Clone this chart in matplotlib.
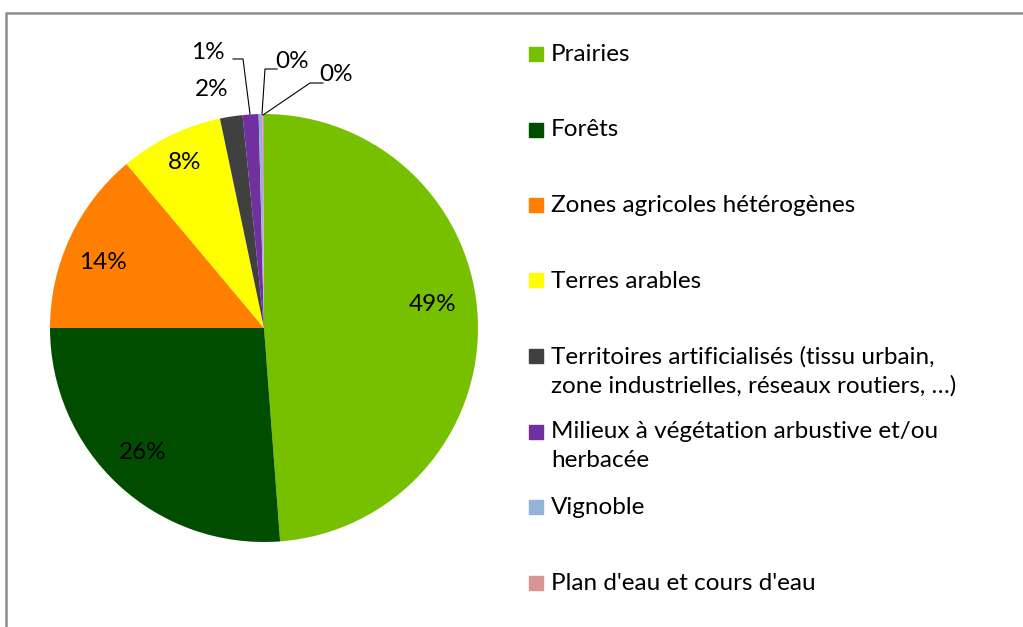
import numpy as np
import matplotlib
matplotlib.use('Agg')
import matplotlib.pyplot as plt
from matplotlib.patches import Rectangle
from matplotlib.lines import Line2D

plt.rcParams['font.family'] = ['Lato', 'DejaVu Sans']

# data
categories = ["Prairies", "Forêts", "Zones agricoles hétérogènes", "Terres arables",
              "Territoires artificialisés (tissu urbain,\nzone industrielles, réseaux routiers, …)",
              "Milieux à végétation arbustive et/ou\nherbacée", "Vignoble",
              "Plan d'eau et cours d'eau"]
values = [48.8, 26.2, 13.9, 7.8, 1.7, 1.2, 0.3, 0.1]
colors = ["#77C000", "#004D00", "#FF8000", "#FFFF00", "#404040", "#7030A0", "#95B3D7", "#D99594"]

W, H = 1023, 627
cx, cy, R = 264, 328, 214  # pie centre / radius in pixels

fig = plt.figure(figsize=(W / 100, H / 100), dpi=100)
ax = fig.add_axes([0, 0, 1, 1])

def px(x, y):
    # pixel position -> data coords (pie radius = 1)
    return (x - cx) / R, (cy - y) / R

wedges, _ = ax.pie(values, colors=colors, startangle=90, counterclock=False,
                   radius=1, center=(0, 0), wedgeprops=dict(linewidth=0))
ax.set_aspect('auto')
ax.set_xlim(px(0, 0)[0], px(W, 0)[0])
ax.set_ylim(px(0, H)[1], px(0, 0)[1])
ax.axis('off')

pct = ["%d%%" % round(v) for v in values]
fs = 17.5

# label placement (pixels), leader lines for the tiniest slices
label_pos = [(433, 305), (143, 453), (103, 263), (185, 163), (212, 90),
             (208, 53), (292, 62), (336, 75)]
leaders = {5: [(233, 59), (243, 59), (250, 114)],
           6: [(277, 69), (265, 69), (262, 114)],
           7: [(323, 83), (310, 83), (263, 115)]}
for i, p in enumerate(pct):
    ax.text(*px(*label_pos[i]), p, ha='center', va='center', fontsize=fs)
    if i in leaders:
        xs, ys = zip(*[px(*q) for q in leaders[i]])
        ax.plot(xs, ys, color='black', lw=0.8)

# legend drawn by hand
for i, (lab, col) in enumerate(zip(categories, colors)):
    ytop = 52 + 75.5 * i
    fig.patches.append(Rectangle((529 / W, 1 - (ytop + 9) / H), 14 / W, 14 / H,
                                 transform=fig.transFigure, color=col))
    fig.text(551 / W, 1 - (ytop - 8) / H, lab, ha='left', va='top',
             fontsize=fs, linespacing=1.45)

# chart border
fig.lines.append(Line2D([6 / W, 6 / W, 1], [0, 1 - 13 / H, 1 - 13 / H],
                        transform=fig.transFigure, color='#8C8C8C', lw=1.8))

fig.savefig('out.png', dpi=100)
